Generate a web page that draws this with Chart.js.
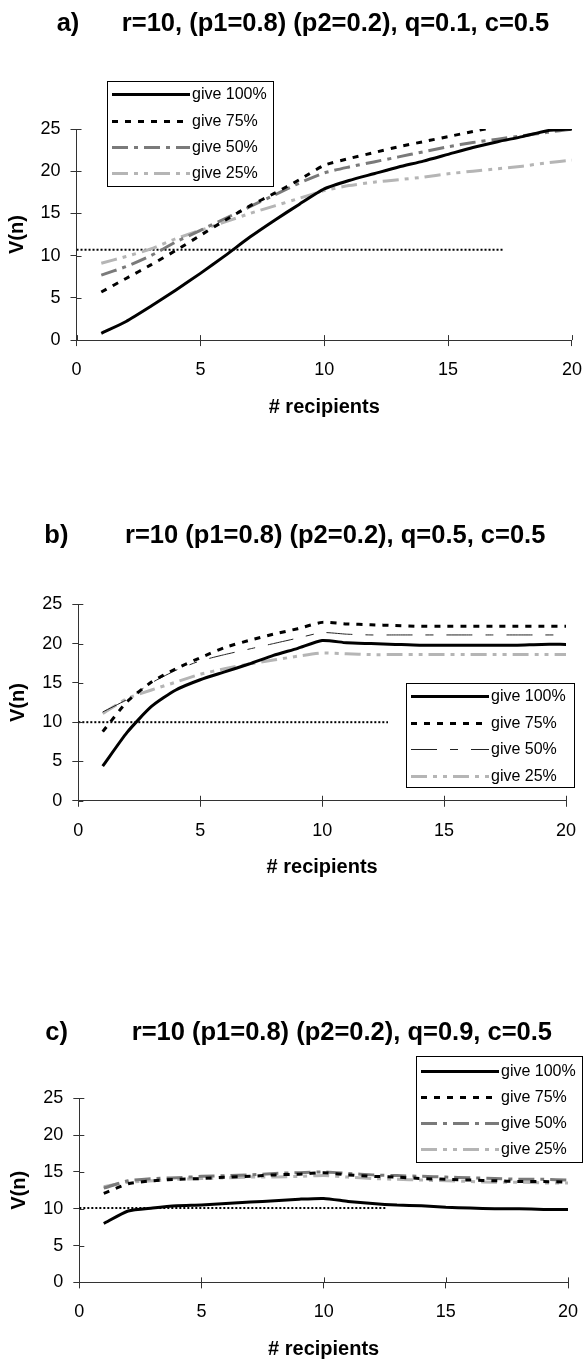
<!DOCTYPE html>
<html>
<head>
<meta charset="utf-8">
<script src="https://cdn.jsdelivr.net/npm/chart.js@4.4.1/dist/chart.umd.min.js"></script>
<style>
  body { margin: 0; background: #fff; }
  .panel { position: absolute; left: 0; }
  canvas { display: block; }
</style>
</head>
<body>
<div class="panel" style="top:0px"><canvas id="chartA" width="584" height="423"></canvas></div>
<div class="panel" style="top:500px"><canvas id="chartB" width="584" height="384"></canvas></div>
<div class="panel" style="top:990px"><canvas id="chartC" width="584" height="374"></canvas></div>
<script>
// x values shared by every series
const recipients = [1, 2, 3, 4, 5, 6, 7, 8, 9, 10, 11, 12, 13, 14, 15, 16, 17, 18, 19, 20];
const seriesLabels = ['give 100%', 'give 75%', 'give 50%', 'give 25%'];

// a) q=0.1
const a100 = [0.8, 2.2, 4.0, 5.9, 7.9, 10.0, 12.2, 14.2, 16.1, 17.9, 18.9, 19.7, 20.5, 21.2, 22.0, 22.8, 23.5, 24.1, 24.8, 25.0];
const a75 = [5.7, 7.3, 8.9, 10.6, 12.4, 14.2, 15.9, 17.4, 19.0, 20.7, 21.5, 22.2, 22.9, 23.5, 24.1, 24.7, 25.3, null, null, null];
const a50 = [7.7, 8.7, 10.0, 11.6, 13.0, 14.4, 15.8, 17.2, 18.6, 19.8, 20.5, 21.1, 21.7, 22.3, 22.9, 23.4, 23.8, 24.2, 24.6, 25.0];
const a25 = [9.1, 9.9, 10.8, 12.0, 13.0, 14.0, 15.0, 15.9, 16.8, 17.7, 18.3, 18.7, 19.0, 19.3, 19.7, 20.0, 20.3, 20.6, 21.0, 21.3];
const aLimitX = [0, 17.2];
const aLimit = [10.7, 10.7];

// b) q=0.5
const b100 = [4.4, 8.7, 12.0, 14.1, 15.4, 16.4, 17.4, 18.5, 19.4, 20.4, 20.1, 20.0, 19.9, 19.8, 19.8, 19.8, 19.8, 19.8, 19.9, 19.9];
const b75 = [8.8, 12.6, 15.1, 16.8, 18.2, 19.5, 20.4, 21.2, 21.9, 22.7, 22.5, 22.4, 22.3, 22.2, 22.2, 22.2, 22.2, 22.2, 22.2, 22.2];
const b50 = [11.3, 12.9, 15.0, 16.6, 17.8, 18.6, 19.3, 20.0, 20.7, 21.4, 21.2, 21.1, 21.1, 21.1, 21.1, 21.1, 21.1, 21.1, 21.1, 21.1];
const b25 = [11.1, 13.0, 14.1, 15.1, 16.1, 16.8, 17.4, 17.9, 18.4, 18.8, 18.7, 18.6, 18.6, 18.6, 18.6, 18.6, 18.6, 18.6, 18.6, 18.6];
const bLimitX = [0, 12.7];
const bLimit = [10.0, 10.0];

// c) q=0.9
const c100 = [8.0, 9.7, 10.1, 10.4, 10.5, 10.7, 10.9, 11.1, 11.3, 11.4, 11.0, 10.7, 10.5, 10.4, 10.2, 10.1, 10.0, 10.0, 9.9, 9.9];
const c75 = [12.1, 13.4, 13.8, 14.0, 14.1, 14.3, 14.4, 14.6, 14.7, 14.9, 14.6, 14.4, 14.3, 14.1, 14.0, 13.9, 13.8, 13.7, 13.7, 13.6];
const c50 = [12.8, 13.8, 14.1, 14.2, 14.4, 14.5, 14.6, 14.8, 14.9, 15.0, 14.8, 14.6, 14.5, 14.4, 14.3, 14.2, 14.1, 14.0, 14.0, 13.9];
const c25 = [13.0, 13.6, 13.8, 14.0, 14.1, 14.2, 14.3, 14.3, 14.4, 14.5, 14.3, 14.1, 14.0, 13.9, 13.8, 13.7, 13.6, 13.6, 13.5, 13.5];
const cLimitX = [0, 12.6];
const cLimit = [10.1, 10.1];

const xTicks = [0, 5, 10, 15, 20];
const yTicks = [0, 5, 10, 15, 20, 25];

const family = '"Liberation Sans", Arial, sans-serif';
const axisColor = '#333';

const toPoints = (xs, ys) => xs.map((x, i) => ({ x, y: ys[i] }));

// Excel-like legend box drawn inside the plot
const boxLegend = {
  id: 'boxLegend',
  afterDraw(chart, args, opts) {
    const ctx = chart.ctx;
    ctx.save();
    ctx.fillStyle = '#fff';
    ctx.fillRect(opts.left, opts.top, opts.width, opts.height);
    ctx.strokeStyle = '#000';
    ctx.lineWidth = 1;
    ctx.strokeRect(opts.left + 0.5, opts.top + 0.5, opts.width, opts.height);
    ctx.font = `16px ${family}`;
    ctx.textBaseline = 'middle';
    chart.data.datasets.filter(d => !d.noLegend).forEach((ds, i) => {
      const y = Math.round(opts.top + opts.rowTop + i * opts.rowGap) + 0.5;
      ctx.save();
      ctx.strokeStyle = ds.borderColor;
      ctx.lineWidth = ds.borderWidth;
      ctx.setLineDash(ds.borderDash || []);
      ctx.beginPath();
      ctx.moveTo(opts.left + 5, y);
      ctx.lineTo(opts.left + 83, y);
      ctx.stroke();
      ctx.restore();
      ctx.fillStyle = '#000';
      ctx.fillText(ds.label, opts.left + 85, y);
    });
    ctx.restore();
  }
};

// tick marks crossing the axes (the outer half comes from grid.tickLength)
const innerTicks = {
  id: 'innerTicks',
  afterDraw(chart) {
    const { ctx, chartArea, scales } = chart;
    ctx.save();
    ctx.strokeStyle = axisColor;
    ctx.lineWidth = 1;
    ctx.beginPath();
    scales.x.ticks.forEach(t => {
      const px = Math.round(scales.x.getPixelForValue(t.value)) + 0.5;
      ctx.moveTo(px, chartArea.bottom);
      ctx.lineTo(px, chartArea.bottom - 5);
    });
    scales.y.ticks.forEach(t => {
      const py = Math.round(scales.y.getPixelForValue(t.value)) + 0.5;
      ctx.moveTo(chartArea.left, py);
      ctx.lineTo(chartArea.left + 5, py);
    });
    ctx.stroke();
    ctx.restore();
  }
};

function makeChart(id, cfg) {
  const series = cfg.series.map((ys, i) => Object.assign({
    label: seriesLabels[i],
    data: toPoints(recipients, ys),
    pointRadius: 0,
    fill: false,
    tension: 0.2
  }, cfg.styles[i]));
  series.push({
    label: 'limit',
    noLegend: true,
    data: toPoints(cfg.limitX, cfg.limit),
    borderColor: '#000',
    borderWidth: 2,
    borderDash: [2, 2],
    pointRadius: 0,
    fill: false
  });

  return new Chart(document.getElementById(id), {
    type: 'line',
    data: { datasets: series },
    options: {
      responsive: false,
      animation: false,
      layout: { padding: { left: cfg.padLeft, right: cfg.padRight, top: 0, bottom: 0 } },
      plugins: {
        legend: { display: false },
        tooltip: { enabled: false },
        title: {
          display: true,
          text: cfg.title,
          align: 'start',
          color: '#000',
          font: { family, size: 25.5, weight: 'bold', lineHeight: 1.2 },
          padding: { top: cfg.titleTop, bottom: cfg.titleBottom }
        },
        boxLegend: cfg.legend
      },
      scales: {
        x: {
          type: 'linear',
          min: 0,
          max: 20,
          afterBuildTicks: s => { s.ticks = xTicks.map(v => ({ value: v })); },
          // tall line height pushes the labels down without adding side padding
          ticks: { color: '#000', font: { family, size: 18, lineHeight: 2.44 }, padding: 2, maxRotation: 0 },
          grid: { drawOnChartArea: false, drawTicks: true, tickLength: 6, color: axisColor },
          border: { display: true, color: axisColor, width: 1 },
          title: {
            display: true,
            text: '# recipients',
            color: '#000',
            font: { family, size: 20, weight: 'bold', lineHeight: 1.2 },
            padding: { top: 1, bottom: cfg.xTitleBottom }
          }
        },
        y: {
          min: 0,
          max: 25,
          afterBuildTicks: s => { s.ticks = yTicks.map(v => ({ value: v })); },
          ticks: { color: '#000', font: { family, size: 18 }, padding: 10 },
          grid: { drawOnChartArea: false, drawTicks: true, tickLength: 6, color: axisColor },
          border: { display: true, color: axisColor, width: 1 },
          title: {
            display: true,
            text: 'V(n)',
            color: '#000',
            font: { family, size: 20, weight: 'bold', lineHeight: 1.2 },
            padding: { top: 5, bottom: 1.5 }
          }
        }
      }
    },
    plugins: [boxLegend, innerTicks]
  });
}

const solid = { borderColor: '#000', borderWidth: 3 };
const dashed75 = { borderColor: '#000', borderWidth: 3, borderDash: [6, 7] };
const gray50 = { borderColor: '#7a7a7a', borderWidth: 3, borderDash: [16, 6, 4, 6] };
const gray25 = { borderColor: '#b5b5b5', borderWidth: 3, borderDash: [16, 6, 4, 6, 4, 6] };
const thin50 = { borderColor: '#222', borderWidth: 1, borderDash: [26, 13, 8, 13] };

makeChart('chartA', {
  title: '        a)      r=10, (p1=0.8) (p2=0.2), q=0.1, c=0.5',
  series: [a100, a75, a50, a25],
  styles: [solid, Object.assign({ clip: 0 }, dashed75), gray50, gray25],
  limitX: aLimitX, limit: aLimit,
  padLeft: 0, padRight: 11.7, titleTop: 8.7, titleBottom: 89.7, xTitleBottom: 4,
  legend: { left: 107, top: 81, width: 166, height: 105, rowTop: 13.4, rowGap: 26.3 }
});

makeChart('chartB', {
  title: '      b)        r=10 (p1=0.8) (p2=0.2), q=0.5, c=0.5',
  series: [b100, b75, b50, b25],
  styles: [solid, dashed75, thin50, gray25],
  limitX: bLimitX, limit: bLimit,
  padLeft: 1.8, padRight: 18, titleTop: 20.3, titleBottom: 53.4, xTitleBottom: 4.3,
  legend: { left: 406, top: 183, width: 168, height: 104, rowTop: 13.4, rowGap: 26.4 }
});

makeChart('chartC', {
  title: '      c)         r=10 (p1=0.8) (p2=0.2), q=0.9, c=0.5',
  series: [c100, c75, c50, c25],
  styles: [solid, dashed75, gray50, gray25],
  limitX: cLimitX, limit: cLimit,
  padLeft: 2.8, padRight: 16, titleTop: 27.3, titleBottom: 50.4, xTitleBottom: 2.7,
  legend: { left: 416, top: 66, width: 166, height: 106, rowTop: 14.7, rowGap: 26.1 }
});
</script>
</body>
</html>
